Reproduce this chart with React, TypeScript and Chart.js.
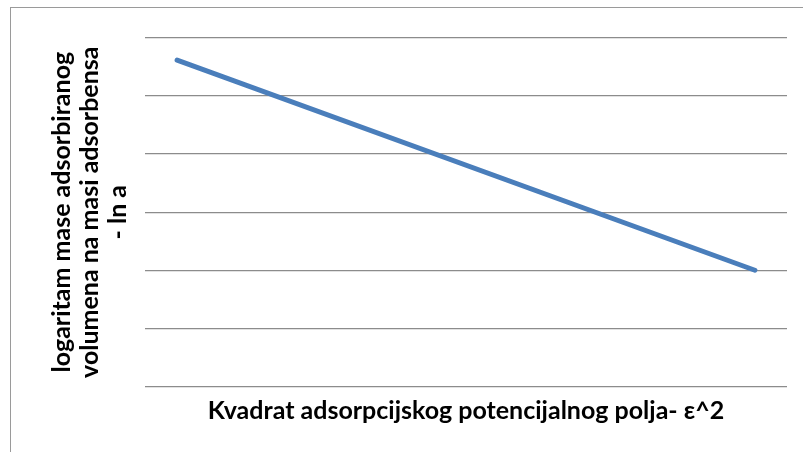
import React, { useEffect, useRef } from "react";
import { Chart, registerables } from "chart.js";

Chart.register(...registerables);

const xValues: number[] = [0.5, 9.5];
const yValues: number[] = [5.62, 2.0];
const xTitle = "Kvadrat adsorpcijskog potencijalnog polja- ε^2";
const yTitle: string[] = ["logaritam mase adsorbiranog", "volumena na masi adsorbensa", "- ln a"];

export default function App() {
  const ref = useRef<HTMLCanvasElement | null>(null);
  useEffect(() => {
    if (!ref.current) return;
    const size = 25;
    const family = "Lato, sans-serif";
    const chart = new Chart(ref.current, {
      type: "line",
      data: {
        datasets: [
          {
            data: xValues.map((x, i) => ({ x, y: yValues[i] })),
            borderColor: "#4a7ebb",
            borderWidth: 5,
            borderCapStyle: "round",
            pointRadius: 0,
            fill: false,
          },
        ],
      },
      options: {
        animation: false,
        responsive: false,
        maintainAspectRatio: false,
        layout: { padding: { top: 38, right: 16, left: 0, bottom: 0 } },
        plugins: { legend: { display: false }, tooltip: { enabled: false } },
        scales: {
          x: {
            type: "linear",
            min: 0,
            max: 10,
            ticks: { display: false },
            grid: { display: false, drawTicks: false },
            border: { display: false },
            title: {
              display: true,
              text: xTitle,
              color: "#000",
              font: { family, size, weight: "bold", lineHeight: 21.6 / size },
              padding: { top: 14, bottom: 30 },
            },
          },
          y: {
            min: 0,
            max: 6,
            ticks: { display: false, stepSize: 1 },
            grid: { color: "#8c8c8c", lineWidth: 1.3, drawTicks: false },
            border: { display: false },
            title: {
              display: true,
              text: yTitle,
              color: "#000",
              font: { family, size, weight: "bold", lineHeight: 28 / size },
              padding: { top: 48, bottom: 13 },
            },
          },
        },
      },
    });
    return () => chart.destroy();
  }, []);
  return (
    <div style={{ position: "fixed", left: 0, top: 0, width: 803, height: 452, background: "#fff" }}>
      <div style={{ position: "absolute", left: 10, top: 7, width: 800, height: 450, border: "1.5px solid #9a9a9a", boxSizing: "border-box" }} />
      <canvas ref={ref} width={803} height={452} style={{ position: "absolute", left: 0, top: 0 }} />
    </div>
  );
}
